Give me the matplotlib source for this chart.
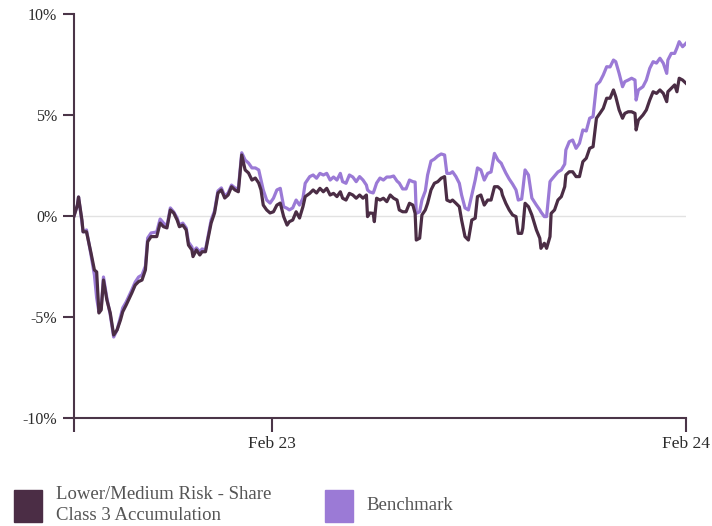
import pandas as pd
import matplotlib.pyplot as plt
from matplotlib.patches import Rectangle

# dates are day offsets from the first point, values are cumulative % change
start_date = "2022-08-10"
day_offsets = [
    0, 3, 4, 7, 8, 11, 15, 18, 20, 22,
    24, 26, 29, 32, 35, 38, 41, 43, 46, 51,
    54, 57, 60, 63, 65, 68, 73, 76, 79, 82,
    85, 88, 91, 93, 96, 99, 101, 104, 105, 108,
    111, 113, 116, 118, 121, 124, 127, 130, 133, 136,
    139, 142, 145, 148, 151, 154, 157, 160, 163, 165,
    167, 170, 173, 176, 179, 182, 185, 188, 190, 193,
    196, 199, 202, 204, 208, 211, 214, 217, 220, 223,
    226, 229, 232, 235, 237, 240, 243, 246, 249, 252,
    255, 258, 259, 261, 264, 265, 267, 270, 273, 276,
    279, 282, 285, 287, 290, 293, 296, 299, 301, 302,
    305, 307, 310, 312, 315, 318, 321, 324, 327, 329,
    332, 334, 337, 340, 342, 345, 348, 351, 354, 356,
    359, 362, 365, 368, 371, 374, 377, 378, 381, 384,
    387, 390, 392, 395, 396, 398, 401, 404, 408, 411,
    412, 415, 417, 420, 421, 424, 427, 430, 433, 434,
    437, 440, 443, 446, 449, 452, 455, 458, 461, 464,
    467, 470, 473, 476, 478, 481, 484, 486, 489, 492,
    495, 496, 498, 502, 505, 508, 511, 514, 517, 520,
    523, 524, 527, 530, 532, 534, 537, 540,
]

fund = [
    0.00, 0.54, 0.94, -0.20, -0.78, -0.78, -1.83, -2.67, -2.77, -4.80,
    -4.65, -3.17, -4.16, -4.80, -5.89, -5.64, -5.15, -4.74, -4.41, -3.81,
    -3.42, -3.25, -3.17, -2.67, -1.27, -1.02, -1.02, -0.35, -0.53, -0.59,
    0.30, 0.15, -0.20, -0.53, -0.45, -0.69, -1.44, -1.68, -2.01, -1.68,
    -1.93, -1.77, -1.77, -1.19, -0.35, 0.15, 1.14, 1.29, 0.89, 1.04,
    1.45, 1.29, 1.20, 3.02, 2.28, 2.13, 1.78, 1.88, 1.63, 1.29,
    0.54, 0.30, 0.15, 0.21, 0.54, 0.64, -0.03, -0.45, -0.28, -0.20,
    0.21, -0.10, 0.46, 0.96, 1.12, 1.29, 1.14, 1.37, 1.20, 1.37,
    1.04, 1.12, 0.96, 1.20, 0.88, 0.79, 1.12, 1.04, 0.88, 1.04,
    0.88, 1.04, -0.03, 0.15, 0.13, -0.28, 0.88, 0.79, 0.88, 0.71,
    1.04, 0.88, 0.79, 0.30, 0.21, 0.21, 0.63, 0.54, 0.13, -1.19,
    -1.10, 0.05, 0.30, 0.63, 1.29, 1.62, 1.70, 1.87, 1.95, 0.79,
    0.71, 0.79, 0.63, 0.46, -0.20, -1.02, -1.19, -0.20, -0.11, 0.96,
    1.04, 0.54, 0.79, 0.79, 1.45, 1.45, 1.29, 1.04, 0.63, 0.30,
    0.05, -0.03, -0.86, -0.86, -0.61, 0.63, 0.46, 0.05, -0.69, -1.10,
    -1.60, -1.35, -1.60, -1.02, 0.13, 0.30, 0.79, 0.96, 1.45, 2.03,
    2.19, 2.19, 1.95, 1.95, 2.69, 2.86, 3.35, 3.43, 4.84, 5.08,
    5.33, 5.83, 5.83, 6.24, 5.91, 5.25, 4.84, 5.08, 5.16, 5.16,
    5.08, 4.26, 4.75, 5.00, 5.25, 5.74, 6.15, 6.07, 6.24, 6.07,
    5.66, 6.15, 6.32, 6.49, 6.15, 6.82, 6.73, 6.57,
]

benchmark = [
    0.00, 0.54, 0.94, -0.30, -0.79, -0.69, -1.93, -2.92, -4.06, -4.75,
    -4.55, -3.02, -4.06, -4.90, -5.99, -5.64, -5.00, -4.55, -4.26, -3.66,
    -3.27, -3.02, -2.92, -2.48, -1.09, -0.84, -0.79, -0.15, -0.35, -0.50,
    0.40, 0.20, -0.10, -0.45, -0.35, -0.59, -1.29, -1.53, -1.78, -1.58,
    -1.78, -1.63, -1.68, -1.09, -0.20, 0.25, 1.24, 1.39, 0.99, 1.14,
    1.53, 1.39, 1.34, 3.13, 2.77, 2.62, 2.38, 2.38, 2.28, 1.78,
    1.29, 0.79, 0.64, 0.88, 1.29, 1.37, 0.46, 0.38, 0.30, 0.40,
    0.79, 0.54, 0.88, 1.62, 1.95, 2.03, 1.87, 2.11, 2.03, 2.11,
    1.78, 1.93, 1.78, 2.11, 1.70, 1.62, 2.03, 1.93, 1.70, 1.95,
    1.78, 1.53, 1.29, 1.19, 1.14, 1.29, 1.63, 1.88, 1.78, 1.93,
    1.93, 1.98, 1.73, 1.63, 1.34, 1.34, 1.78, 1.70, 1.68, 0.13,
    0.21, 0.79, 1.24, 2.03, 2.72, 2.82, 2.97, 3.07, 3.02, 2.11,
    2.11, 2.19, 1.95, 1.62, 1.04, 0.40, 0.30, 1.04, 1.78, 2.38,
    2.28, 1.78, 2.11, 2.18, 3.10, 2.77, 2.61, 2.48, 2.13, 1.83,
    1.58, 1.29, 0.79, 0.84, 1.29, 2.28, 2.03, 0.89, 0.54, 0.30,
    0.20, -0.03, -0.03, 1.70, 1.78, 1.98, 2.18, 2.28, 2.57, 3.27,
    3.68, 3.76, 3.35, 3.60, 4.26, 4.21, 4.84, 4.92, 6.49, 6.65,
    6.98, 7.39, 7.38, 7.72, 7.64, 7.06, 6.40, 6.65, 6.73, 6.82,
    6.73, 5.74, 6.24, 6.40, 6.73, 7.31, 7.64, 7.57, 7.81, 7.56,
    7.06, 7.72, 8.05, 8.05, 8.32, 8.63, 8.38, 8.55,
]

x_ticks = ["2022-08-10", "2023-02-01", "2024-02-01"]
x_tick_labels = ["", "Feb 23", "Feb 24"]
y_ticks = [-10, -5, 0, 5, 10]
series_names = ["Lower/Medium Risk - Share\nClass 3 Accumulation", "Benchmark"]

fund_color = "#4b2d45"
bench_color = "#9b7ad6"
axis_color = "#4b3548"
text_color = "#2b2b2b"

plt.rcParams["font.family"] = ["Liberation Serif", "DejaVu Serif"]

dates = pd.Timestamp(start_date) + pd.to_timedelta(day_offsets, unit="D")

fig = plt.figure(figsize=(7.12, 5.26), dpi=100)
ax = fig.add_axes([74 / 712, 1 - 418 / 526, 612 / 712, 404 / 526])

ax.axhline(0, color="#e2e2e2", linewidth=1, zorder=1)
ax.plot(dates, benchmark, color=bench_color, linewidth=2.3, zorder=2)
ax.plot(dates, fund, color=fund_color, linewidth=2.3, zorder=3)

ax.set_xlim(pd.Timestamp(x_ticks[0]), pd.Timestamp(x_ticks[-1]))
ax.set_ylim(-10, 10)
ax.set_xticks(pd.to_datetime(x_ticks))
ax.set_xticklabels(x_tick_labels)
ax.set_yticks(y_ticks)
ax.set_yticklabels([f"{v}%" for v in y_ticks])

for side in ["top", "right"]:
    ax.spines[side].set_visible(False)
for side in ["left", "bottom"]:
    ax.spines[side].set_color(axis_color)
    ax.spines[side].set_linewidth(1.5)

ax.tick_params(axis="x", length=10, width=1.5, color=axis_color,
               labelsize=12.5, labelcolor=text_color, pad=3)
ax.tick_params(axis="y", length=8, width=1.5, color=axis_color,
               labelsize=11.5, labelcolor=text_color, pad=4)

# legend below the chart, drawn by hand
fig.add_artist(Rectangle((14 / 712, 1 - 522 / 526), 28 / 712, 32 / 526,
                         transform=fig.transFigure, color=fund_color))
fig.text(56 / 712, 1 - 505 / 526, series_names[0], fontsize=13.5,
         color="#555555", va="center", ha="left", linespacing=1.3)
fig.add_artist(Rectangle((325 / 712, 1 - 522 / 526), 28 / 712, 32 / 526,
                         transform=fig.transFigure, color=bench_color))
fig.text(366 / 712, 1 - 506 / 526, series_names[1], fontsize=13.5,
         color="#555555", va="center", ha="left")

plt.savefig("out.png", dpi=100)
plt.close()
